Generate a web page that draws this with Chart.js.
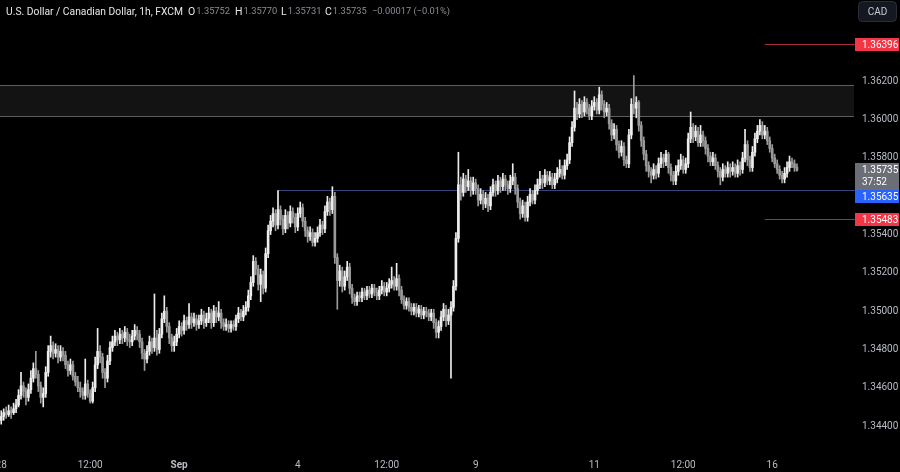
<!DOCTYPE html>
<html>
<head>
<meta charset="utf-8">
<script src="https://cdn.jsdelivr.net/npm/chart.js@4"></script>
<style>
  html, body { margin: 0; padding: 0; background: #000; }
  #wrap { width: 900px; height: 472px; }
</style>
</head>
<body>
<div id="wrap"><canvas id="myChart" width="900" height="472"></canvas></div>
<script>
// hourly candles, Aug 28 00:00 -> Sep 16 10:00
const opens = [
1.3443,1.3445,1.3447,1.3446,1.3448,1.3447,1.3449,1.3451,1.3456,1.3461,
1.3458,1.3455,1.3459,1.3465,1.3470,1.3467,1.3461,1.3455,1.3457,1.3468,
1.3479,1.3482,1.3478,1.3480,1.3476,1.3479,1.3477,1.3472,1.3469,1.3472,
1.3466,1.3463,1.3460,1.3458,1.3456,1.3462,1.3457,1.3453,1.3460,1.3472,
1.3479,1.3476,1.3468,1.3465,1.3474,1.3481,1.3484,1.3487,1.3485,1.3488,
1.3486,1.3489,1.3485,1.3484,1.3487,1.3490,1.3488,1.3484,1.3478,1.3475,
1.3479,1.3484,1.3481,1.3486,1.3480,1.3488,1.3496,1.3500,1.3492,1.3486,
1.3482,1.3484,1.3488,1.3492,1.3490,1.3495,1.3493,1.3497,1.3494,1.3496,
1.3493,1.3495,1.3498,1.3494,1.3496,1.3499,1.3494,1.3500,1.3497,1.3499,
1.3494,1.3492,1.3493,1.3491,1.3493,1.3492,1.3496,1.3499,1.3497,1.3500,
1.3502,1.3508,1.3515,1.3526,1.3522,1.3514,1.3519,1.3512,1.3530,1.3542,
1.3547,1.3551,1.3545,1.3553,1.3548,1.3543,1.3550,1.3546,1.3552,1.3549,
1.3544,1.3551,1.3554,1.3547,1.3542,1.3539,1.3541,1.3536,1.3538,1.3541,
1.3545,1.3543,1.3552,1.3557,1.3553,1.3560,1.3528,1.3516,1.3521,1.3513,
1.3518,1.3523,1.3512,1.3507,1.3505,1.3508,1.3507,1.3510,1.3508,1.3511,
1.3509,1.3512,1.3510,1.3508,1.3511,1.3513,1.3510,1.3512,1.3514,1.3516,
1.3513,1.3517,1.3511,1.3506,1.3503,1.3505,1.3502,1.3500,1.3502,1.3499,
1.3501,1.3498,1.3500,1.3499,1.3497,1.3499,1.3494,1.3489,1.3492,1.3497,
1.3501,1.3495,1.3498,1.3502,1.3513,1.3538,1.3566,1.3562,1.3569,1.3565,
1.3568,1.3563,1.3567,1.3564,1.3558,1.3561,1.3556,1.3559,1.3555,1.3562,
1.3566,1.3563,1.3568,1.3565,1.3569,1.3566,1.3564,1.3568,1.3570,1.3564,
1.3557,1.3551,1.3555,1.3549,1.3557,1.3561,1.3558,1.3563,1.3566,1.3569,
1.3567,1.3571,1.3568,1.3570,1.3566,1.3569,1.3572,1.3574,1.3571,1.3576,
1.3579,1.3588,1.3596,1.3606,1.3603,1.3608,1.3604,1.3609,1.3606,1.3602,
1.3607,1.3609,1.3605,1.3613,1.3608,1.3604,1.3606,1.3598,1.3592,1.3595,
1.3587,1.3583,1.3586,1.3579,1.3577,1.3592,1.3608,1.3606,1.3609,1.3597,
1.3589,1.3582,1.3576,1.3573,1.3571,1.3574,1.3572,1.3577,1.3580,1.3578,
1.3582,1.3575,1.3571,1.3568,1.3573,1.3576,1.3579,1.3574,1.3577,1.3590,
1.3596,1.3591,1.3594,1.3588,1.3592,1.3589,1.3585,1.3581,1.3578,1.3580,
1.3576,1.3573,1.3570,1.3574,1.3572,1.3575,1.3573,1.3575,1.3572,1.3576,
1.3574,1.3580,1.3587,1.3579,1.3575,1.3583,1.3590,1.3594,1.3597,1.3592,
1.3594,1.3589,1.3585,1.3580,1.3577,1.3574,1.3571,1.3569,1.3572,1.3575,
1.3578,1.3577,1.35752
];
const highs = [
1.3448,1.3449,1.3450,1.3451,1.3450,1.3452,1.3454,1.3459,1.3468,1.3463,
1.3460,1.3462,1.3469,1.3473,1.3479,1.3469,1.3463,1.3460,1.3471,1.3482,
1.3487,1.3484,1.3483,1.3482,1.3482,1.3481,1.3479,1.3474,1.3475,1.3474,
1.3468,1.3466,1.3463,1.3460,1.3475,1.3464,1.3459,1.3463,1.3476,1.3491,
1.3482,1.3478,1.3470,1.3477,1.3484,1.3487,1.3490,1.3489,1.3491,1.3490,
1.3492,1.3491,1.3488,1.3490,1.3493,1.3492,1.3490,1.3486,1.3480,1.3482,
1.3487,1.3486,1.3509,1.3490,1.3491,1.3499,1.3508,1.3502,1.3494,1.3488,
1.3487,1.3491,1.3495,1.3494,1.3498,1.3497,1.3504,1.3499,1.3499,1.3498,
1.3498,1.3501,1.3500,1.3499,1.3502,1.3501,1.3503,1.3502,1.3505,1.3501,
1.3496,1.3496,1.3495,1.3495,1.3495,1.3498,1.3502,1.3501,1.3503,1.3505,
1.3511,1.3518,1.3529,1.3528,1.3524,1.3522,1.3521,1.3533,1.3545,1.3550,
1.3554,1.3553,1.3563,1.3555,1.3550,1.3553,1.3552,1.3555,1.3554,1.3551,
1.3554,1.3557,1.3556,1.3549,1.3544,1.3544,1.3543,1.3541,1.3544,1.3548,
1.3547,1.3555,1.3560,1.3559,1.3565,1.3562,1.3530,1.3524,1.3523,1.3521,
1.3526,1.3525,1.3514,1.3509,1.3510,1.3510,1.3512,1.3512,1.3513,1.3513,
1.3514,1.3514,1.3512,1.3513,1.3516,1.3515,1.3515,1.3517,1.3523,1.3518,
1.3525,1.3519,1.3513,1.3508,1.3507,1.3507,1.3504,1.3504,1.3504,1.3503,
1.3503,1.3502,1.3502,1.3501,1.3501,1.3501,1.3496,1.3495,1.3500,1.3504,
1.3503,1.3501,1.3505,1.3516,1.3541,1.3583,1.3570,1.3572,1.3571,1.3574,
1.3570,1.3570,1.3569,1.3566,1.3564,1.3563,1.3562,1.3561,1.3565,1.3569,
1.3568,1.3571,1.3570,1.3572,1.3571,1.3568,1.3571,1.3577,1.3572,1.3566,
1.3559,1.3558,1.3557,1.3560,1.3564,1.3563,1.3566,1.3569,1.3573,1.3571,
1.3574,1.3573,1.3573,1.3572,1.3572,1.3575,1.3579,1.3576,1.3579,1.3582,
1.3591,1.3599,1.3615,1.3609,1.3611,1.3610,1.3612,1.3611,1.3608,1.3610,
1.3612,1.3611,1.3617,1.3615,1.3610,1.3609,1.3608,1.3600,1.3598,1.3597,
1.3589,1.3589,1.3588,1.3581,1.3595,1.3611,1.3623,1.3612,1.3610,1.3599,
1.3591,1.3584,1.3578,1.3575,1.3577,1.3576,1.3580,1.3583,1.3582,1.3584,
1.3583,1.3577,1.3573,1.3576,1.3579,1.3582,1.3581,1.3580,1.3593,1.3604,
1.3598,1.3597,1.3596,1.3597,1.3594,1.3591,1.3587,1.3583,1.3583,1.3582,
1.3578,1.3575,1.3577,1.3576,1.3578,1.3577,1.3578,1.3577,1.3579,1.3578,
1.3583,1.3595,1.3589,1.3581,1.3586,1.3593,1.3597,1.3600,1.3599,1.3597,
1.3596,1.3591,1.3587,1.3582,1.3579,1.3576,1.3573,1.3575,1.3578,1.3581,
1.3580,1.3579,1.35770
];
const lows = [
1.3441,1.3443,1.3444,1.3445,1.3444,1.3446,1.3447,1.3450,1.3454,1.3455,
1.3451,1.3453,1.3457,1.3463,1.3465,1.3458,1.3452,1.3450,1.3455,1.3466,
1.3476,1.3475,1.3476,1.3473,1.3474,1.3474,1.3470,1.3466,1.3467,1.3464,
1.3461,1.3458,1.3455,1.3454,1.3454,1.3455,1.3452,1.3452,1.3458,1.3470,
1.3473,1.3465,1.3460,1.3463,1.3472,1.3479,1.3482,1.3482,1.3483,1.3483,
1.3484,1.3482,1.3481,1.3482,1.3485,1.3485,1.3481,1.3475,1.3469,1.3473,
1.3477,1.3478,1.3479,1.3477,1.3478,1.3486,1.3494,1.3489,1.3483,1.3479,
1.3479,1.3482,1.3486,1.3487,1.3488,1.3490,1.3491,1.3491,1.3492,1.3490,
1.3491,1.3493,1.3491,1.3492,1.3494,1.3491,1.3492,1.3494,1.3495,1.3491,
1.3490,1.3490,1.3489,1.3489,1.3490,1.3490,1.3494,1.3495,1.3495,1.3498,
1.3500,1.3506,1.3513,1.3519,1.3511,1.3505,1.3509,1.3510,1.3528,1.3540,
1.3544,1.3542,1.3543,1.3545,1.3540,1.3541,1.3543,1.3544,1.3546,1.3541,
1.3542,1.3549,1.3544,1.3539,1.3536,1.3537,1.3534,1.3534,1.3536,1.3539,
1.3540,1.3541,1.3550,1.3550,1.3551,1.3525,1.3501,1.3513,1.3510,1.3511,
1.3516,1.3509,1.3504,1.3503,1.3503,1.3505,1.3505,1.3506,1.3506,1.3507,
1.3507,1.3508,1.3506,1.3506,1.3509,1.3508,1.3508,1.3510,1.3512,1.3511,
1.3511,1.3508,1.3504,1.3501,1.3501,1.3500,1.3498,1.3498,1.3497,1.3497,
1.3496,1.3496,1.3497,1.3495,1.3495,1.3491,1.3486,1.3486,1.3490,1.3495,
1.3492,1.3493,1.3465,1.3500,1.3511,1.3536,1.3558,1.3560,1.3562,1.3563,
1.3560,1.3561,1.3561,1.3555,1.3556,1.3553,1.3554,1.3552,1.3553,1.3560,
1.3560,1.3561,1.3562,1.3563,1.3563,1.3561,1.3562,1.3566,1.3561,1.3554,
1.3548,1.3549,1.3547,1.3547,1.3555,1.3556,1.3556,1.3561,1.3564,1.3564,
1.3565,1.3566,1.3566,1.3564,1.3564,1.3567,1.3570,1.3569,1.3569,1.3574,
1.3577,1.3586,1.3594,1.3600,1.3601,1.3601,1.3602,1.3603,1.3600,1.3600,
1.3605,1.3603,1.3603,1.3605,1.3601,1.3602,1.3595,1.3589,1.3590,1.3584,
1.3580,1.3581,1.3576,1.3575,1.3575,1.3590,1.3603,1.3601,1.3594,1.3586,
1.3579,1.3573,1.3570,1.3567,1.3569,1.3569,1.3570,1.3575,1.3575,1.3576,
1.3572,1.3568,1.3566,1.3566,1.3571,1.3574,1.3572,1.3572,1.3575,1.3588,
1.3588,1.3589,1.3586,1.3586,1.3586,1.3582,1.3578,1.3576,1.3576,1.3574,
1.3570,1.3566,1.3568,1.3570,1.3570,1.3570,1.3571,1.3570,1.3570,1.3571,
1.3572,1.3578,1.3576,1.3573,1.3573,1.3581,1.3588,1.3592,1.3590,1.3590,
1.3587,1.3583,1.3578,1.3575,1.3572,1.3569,1.3567,1.3567,1.3570,1.3573,
1.3575,1.3573,1.35731
];
const closes = [
1.3445,1.3447,1.3446,1.3448,1.3447,1.3449,1.3451,1.3456,1.3461,1.3458,
1.3455,1.3459,1.3465,1.3470,1.3467,1.3461,1.3455,1.3457,1.3468,1.3479,
1.3482,1.3478,1.3480,1.3476,1.3479,1.3477,1.3472,1.3469,1.3472,1.3466,
1.3463,1.3460,1.3458,1.3456,1.3462,1.3457,1.3453,1.3460,1.3472,1.3479,
1.3476,1.3468,1.3465,1.3474,1.3481,1.3484,1.3487,1.3485,1.3488,1.3486,
1.3489,1.3485,1.3484,1.3487,1.3490,1.3488,1.3484,1.3478,1.3475,1.3479,
1.3484,1.3481,1.3486,1.3480,1.3488,1.3496,1.3500,1.3492,1.3486,1.3482,
1.3484,1.3488,1.3492,1.3490,1.3495,1.3493,1.3497,1.3494,1.3496,1.3493,
1.3495,1.3498,1.3494,1.3496,1.3499,1.3494,1.3500,1.3497,1.3499,1.3494,
1.3492,1.3493,1.3491,1.3493,1.3492,1.3496,1.3499,1.3497,1.3500,1.3502,
1.3508,1.3515,1.3526,1.3522,1.3514,1.3519,1.3512,1.3530,1.3542,1.3547,
1.3551,1.3545,1.3553,1.3548,1.3543,1.3550,1.3546,1.3552,1.3549,1.3544,
1.3551,1.3554,1.3547,1.3542,1.3539,1.3541,1.3536,1.3538,1.3541,1.3545,
1.3543,1.3552,1.3557,1.3553,1.3560,1.3528,1.3516,1.3521,1.3513,1.3518,
1.3523,1.3512,1.3507,1.3505,1.3508,1.3507,1.3510,1.3508,1.3511,1.3509,
1.3512,1.3510,1.3508,1.3511,1.3513,1.3510,1.3512,1.3514,1.3516,1.3513,
1.3517,1.3511,1.3506,1.3503,1.3505,1.3502,1.3500,1.3502,1.3499,1.3501,
1.3498,1.3500,1.3499,1.3497,1.3499,1.3494,1.3489,1.3492,1.3497,1.3501,
1.3495,1.3498,1.3502,1.3513,1.3538,1.3566,1.3562,1.3569,1.3565,1.3568,
1.3563,1.3567,1.3564,1.3558,1.3561,1.3556,1.3559,1.3555,1.3562,1.3566,
1.3563,1.3568,1.3565,1.3569,1.3566,1.3564,1.3568,1.3570,1.3564,1.3557,
1.3551,1.3555,1.3549,1.3557,1.3561,1.3558,1.3563,1.3566,1.3569,1.3567,
1.3571,1.3568,1.3570,1.3566,1.3569,1.3572,1.3574,1.3571,1.3576,1.3579,
1.3588,1.3596,1.3606,1.3603,1.3608,1.3604,1.3609,1.3606,1.3602,1.3607,
1.3609,1.3605,1.3613,1.3608,1.3604,1.3606,1.3598,1.3592,1.3595,1.3587,
1.3583,1.3586,1.3579,1.3577,1.3592,1.3608,1.3606,1.3609,1.3597,1.3589,
1.3582,1.3576,1.3573,1.3571,1.3574,1.3572,1.3577,1.3580,1.3578,1.3582,
1.3575,1.3571,1.3568,1.3573,1.3576,1.3579,1.3574,1.3577,1.3590,1.3596,
1.3591,1.3594,1.3588,1.3592,1.3589,1.3585,1.3581,1.3578,1.3580,1.3576,
1.3573,1.3570,1.3574,1.3572,1.3575,1.3573,1.3575,1.3572,1.3576,1.3574,
1.3580,1.3587,1.3579,1.3575,1.3583,1.3590,1.3594,1.3597,1.3592,1.3594,
1.3589,1.3585,1.3580,1.3577,1.3574,1.3571,1.3569,1.3572,1.3575,1.3578,
1.3577,1.3575,1.35735
];

// time axis labels (candle index -> text)
const tickIndex = [0, 36, 72, 120, 156, 192, 240, 276, 312];
const tickText = ['28', '12:00', 'Sep', '4', '12:00', '9', '11', '12:00', '16'];
const boldTicks = ['Sep'];
const totalSlots = 346;

// price axis
const yTicks = [1.344, 1.346, 1.348, 1.350, 1.352, 1.354, 1.356, 1.358, 1.360, 1.362];
const yMin = 1.34275;
const yMax = 1.36625;

// drawn levels
const zoneTop = 1.36181;
const zoneBottom = 1.36019;
const supportLevel = 1.35635;
const supportStart = 112;
const redLevels = [1.36396, 1.35483];
const redStart = 309;
const lastPrice = 1.35735;
const countdown = '37:52';

// header
const title = 'U.S. Dollar / Canadian Dollar, 1h, FXCM';
const ohlcNames = ['O', 'H', 'L', 'C'];
const ohlcValues = ['1.35752', '1.35770', '1.35731', '1.35735'];
const changeText = '\u22120.00017 (\u22120.01%)';

const UP = '#ededed';
const DOWN = '#9a9a9a';

const labels = [];
for (let i = 0; i < totalSlots; i++) {
    const k = tickIndex.indexOf(i);
    labels.push(k >= 0 ? tickText[k] : '');
}
const candleColors = closes.map((c, i) => c >= opens[i] ? UP : DOWN);

const FONT = 'Roboto, "Noto Sans", sans-serif';

function noPadding(s) {
    s.paddingLeft = 0;
    s.paddingRight = 0;
    s.paddingTop = 0;
    s.paddingBottom = 0;
}

function priceBox(ctx, area, y, h, fill, lines, textColor) {
    ctx.fillStyle = fill;
    ctx.fillRect(area.right, y, 900 - area.right - 1, h);
    ctx.fillStyle = textColor;
    ctx.font = '10px ' + FONT;
    ctx.textAlign = 'left';
    ctx.textBaseline = 'middle';
    lines.forEach((t, k) => ctx.fillText(t, area.right + 7, y + 7 + k * 12));
}

const overlay = {
    id: 'overlay',
    beforeDraw(chart) {
        const ctx = chart.ctx;
        ctx.save();
        ctx.fillStyle = '#000';
        ctx.fillRect(0, 0, chart.width, chart.height);
        ctx.restore();
    },
    beforeDatasetsDraw(chart) {
        const ctx = chart.ctx;
        const area = chart.chartArea;
        const ys = chart.scales.y;
        const xs = chart.scales.x;
        ctx.save();
        // resistance zone
        const zt = Math.round(ys.getPixelForValue(zoneTop)) + 0.5;
        const zb = Math.round(ys.getPixelForValue(zoneBottom)) + 0.5;
        ctx.fillStyle = '#131313';
        ctx.fillRect(area.left, zt, area.right - 1 - area.left, zb - zt);
        ctx.strokeStyle = '#5e5e5e';
        ctx.lineWidth = 1;
        ctx.beginPath();
        ctx.moveTo(area.left, zt); ctx.lineTo(area.right - 1, zt);
        ctx.moveTo(area.left, zb); ctx.lineTo(area.right - 1, zb);
        ctx.stroke();
        // support line
        const sy = Math.round(ys.getPixelForValue(supportLevel)) + 0.5;
        ctx.strokeStyle = '#3a4478';
        ctx.beginPath();
        ctx.moveTo(xs.getPixelForValue(supportStart), sy);
        ctx.lineTo(area.right, sy);
        ctx.stroke();
        // red levels
        ctx.strokeStyle = '#a82c38';
        redLevels.forEach(v => {
            const ry = Math.round(ys.getPixelForValue(v)) + 0.5;
            ctx.beginPath();
            ctx.moveTo(xs.getPixelForValue(redStart), ry);
            ctx.lineTo(area.right, ry);
            ctx.stroke();
        });
        ctx.restore();
    },
    afterDraw(chart) {
        const ctx = chart.ctx;
        const area = chart.chartArea;
        const ys = chart.scales.y;
        ctx.save();
        // header
        ctx.textBaseline = 'middle';
        ctx.textAlign = 'left';
        ctx.fillStyle = '#e6e6e6';
        ctx.font = '10.3px ' + FONT;
        ctx.fillText(title, 6, 12);
        const nameX = [188, 235, 281, 325];
        ohlcNames.forEach((n, k) => {
            ctx.font = '10.5px ' + FONT;
            ctx.fillStyle = '#e6e6e6';
            ctx.fillText(n, nameX[k], 12);
            const w = ctx.measureText(n).width;
            ctx.fillStyle = '#8a8d96';
            ctx.font = '9.3px ' + FONT;
            ctx.fillText(ohlcValues[k], nameX[k] + w + 1, 12);
        });
        ctx.font = '9.3px ' + FONT;
        ctx.fillStyle = '#8a8d96';
        ctx.fillText(changeText, 372, 12);
        // currency box
        ctx.fillStyle = '#141820';
        ctx.strokeStyle = '#2a2e39';
        ctx.beginPath();
        ctx.roundRect(858.5, 1.5, 38, 20, 4);
        ctx.fill();
        ctx.stroke();
        ctx.fillStyle = '#c8cad0';
        ctx.font = '10px ' + FONT;
        ctx.textAlign = 'center';
        ctx.fillText('CAD', 877.5, 12);
        // price labels
        const ly = Math.round(ys.getPixelForValue(lastPrice));
        priceBox(ctx, area, ly - 7, 27, '#6b6e77', ['1.35735', countdown], '#ffffff');
        const sy = Math.round(ys.getPixelForValue(supportLevel));
        priceBox(ctx, area, sy, 13, '#2962ff', ['1.35635'], '#ffffff');
        redLevels.forEach(v => {
            const ry = Math.round(ys.getPixelForValue(v));
            priceBox(ctx, area, ry - 6, 13, '#f23645', [v.toFixed(5)], '#ffffff');
        });
        ctx.restore();
    }
};

const ctx = document.getElementById('myChart');
new Chart(ctx, {
    type: 'bar',
    data: {
        labels,
        datasets: [{
            // wicks
            data: lows.map((l, i) => [l, highs[i]]),
            backgroundColor: candleColors,
            barThickness: 1,
            grouped: false,
            order: 2
        }, {
            // bodies
            data: opens.map((o, i) => [Math.min(o, closes[i]), Math.max(o, closes[i])]),
            backgroundColor: candleColors,
            barThickness: 2,
            minBarLength: 1,
            grouped: false,
            order: 1
        }]
    },
    options: {
        responsive: false,
        animation: false,
        devicePixelRatio: 1,
        layout: { padding: 0 },
        plugins: {
            legend: { display: false },
            tooltip: { enabled: false }
        },
        scales: {
            x: {
                type: 'category',
                offset: true,
                grid: { display: false, drawTicks: false },
                border: { display: false },
                afterBuildTicks: s => { s.ticks = tickIndex.map(v => ({ value: v })); },
                afterFit: s => { s.height = 22; noPadding(s); },
                ticks: {
                    autoSkip: false,
                    maxRotation: 0,
                    padding: 9,
                    color: '#b8bcc6',
                    font: ctx => ({
                        family: FONT,
                        size: 10,
                        weight: ctx.tick && boldTicks.includes(tickText[tickIndex.indexOf(ctx.tick.value)]) ? 'bold' : 'normal'
                    })
                }
            },
            y: {
                position: 'right',
                min: yMin,
                max: yMax,
                grid: { display: false, drawTicks: false },
                border: { display: false },
                afterBuildTicks: s => { s.ticks = yTicks.map(v => ({ value: v })); },
                afterFit: s => { s.width = 45; noPadding(s); },
                ticks: {
                    padding: 7,
                    color: '#b8bcc6',
                    font: { family: FONT, size: 10 },
                    callback: v => v.toFixed(5)
                }
            }
        }
    },
    plugins: [overlay]
});
</script>
</body>
</html>
